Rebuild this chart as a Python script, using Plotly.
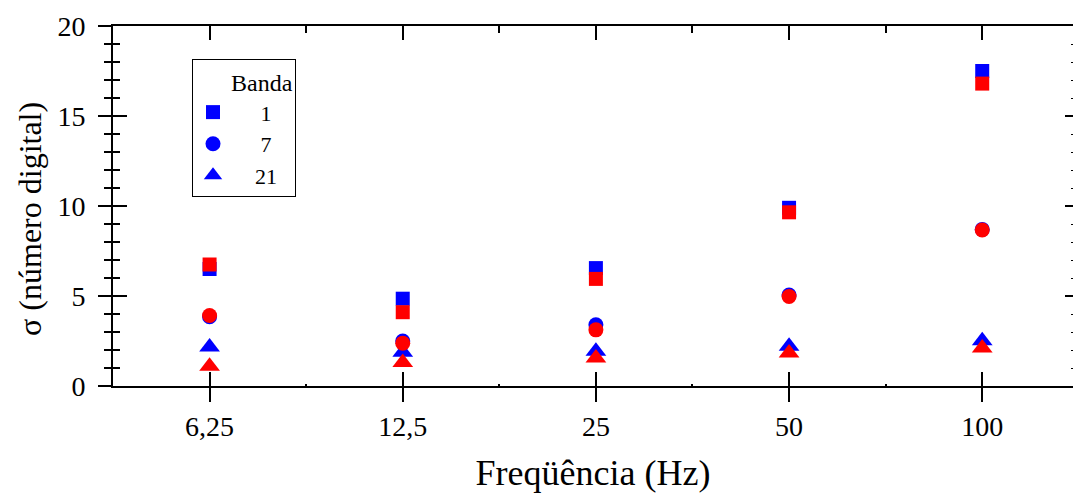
import plotly.graph_objects as go

freq = ['6,25', '12,5', '25', '50', '100']
banda = ['1', '7', '21']
simbolos = ['square', 'circle', 'triangle-up']
tamanhos = [14, 15, 18]

# azul
azul_1 = [6.5, 4.85, 6.55, 9.9, 17.5]
azul_7 = [3.85, 2.5, 3.4, 5.05, 8.7]
azul_21 = [2.16, 1.88, 1.93, 2.21, 2.51]
# vermelho
verm_1 = [6.75, 4.1, 5.95, 9.65, 16.8]
verm_7 = [3.92, 2.38, 3.12, 4.97, 8.67]
verm_21 = [1.1, 1.3, 1.56, 1.84, 2.11]

azul = [azul_1, azul_7, azul_21]
verm = [verm_1, verm_7, verm_21]
x = list(range(len(freq)))

fonte = 'Liberation Serif'
nb = '\u00a0'
rotulos = [nb * 5 + '1', nb * 5 + '7', nb * 4 + '21']

fig = go.Figure()
for i in range(3):
    fig.add_trace(go.Scatter(x=x, y=azul[i], mode='markers', name=rotulos[i],
                             marker=dict(symbol=simbolos[i], size=tamanhos[i], color='#0000ff', line_width=0)))
# vermelhos no par x2/y2 (mesma escala), por cima dos azuis
for i in range(3):
    fig.add_trace(go.Scatter(x=x, y=verm[i], mode='markers', showlegend=False, xaxis='x2', yaxis='y2',
                             marker=dict(symbol=simbolos[i], size=tamanhos[i], color='#ff0000', line_width=0)))
# traco vazio so para desenhar os eixos de cima / direita
fig.add_trace(go.Scatter(x=[], y=[], mode='markers', showlegend=False, xaxis='x3', yaxis='y3'))

xr = [-0.5, 4.47]
yr = [0, 20]
meios = [0.5, 1.5, 2.5, 3.5]

fig.update_layout(
    width=1073, height=493,
    margin=dict(l=113, r=0, t=26, b=107),
    plot_bgcolor='white', paper_bgcolor='white',
    font=dict(family=fonte, size=28, color='black'),
    showlegend=True,
    legend=dict(x=0.0823, y=0.908, xanchor='left', yanchor='top',
                bordercolor='black', borderwidth=1, bgcolor='white',
                font=dict(size=22), title=dict(text=nb * 6 + 'Banda', font=dict(size=24)),
                itemsizing='trace'),
    xaxis=dict(range=xr, tickvals=x, ticktext=freq, showgrid=False, zeroline=False,
               showline=True, linecolor='black', linewidth=2,
               ticks='outside', ticklen=14, tickwidth=2, tickcolor='black',
               title=dict(text='Freqüência (Hz)', font=dict(size=36), standoff=24)),
    xaxis2=dict(range=xr, overlaying='x', side='bottom', anchor='y2', tickvals=x, showticklabels=False,
                showgrid=False, zeroline=False, ticks='inside', ticklen=14, tickwidth=2,
                tickcolor='black',
                minor=dict(tickvals=meios, ticks='inside', ticklen=2, tickwidth=2, tickcolor='black')),
    xaxis3=dict(range=xr, overlaying='x', side='top', anchor='y3', tickvals=x, showticklabels=False,
                showgrid=False, zeroline=False, showline=True, linecolor='black', linewidth=2,
                ticks='inside', ticklen=14, tickwidth=2, tickcolor='black',
                minor=dict(tickvals=meios, ticks='inside', ticklen=7, tickwidth=2, tickcolor='black')),
    yaxis=dict(range=yr, dtick=5, showgrid=False, zeroline=False,
               showline=True, linecolor='black', linewidth=2,
               ticks='outside', ticklen=13, tickwidth=2, tickcolor='black', ticklabelstandoff=7,
               minor=dict(dtick=1, ticks='outside', ticklen=7, tickwidth=2, tickcolor='black')),
    yaxis2=dict(range=yr, overlaying='y', side='left', anchor='x2', dtick=5, showticklabels=False,
                showgrid=False, zeroline=False, ticks='inside', ticklen=14, tickwidth=2, tickcolor='black',
                minor=dict(dtick=1, ticks='inside', ticklen=7, tickwidth=2, tickcolor='black')),
    yaxis3=dict(range=yr, overlaying='y', side='right', anchor='x3', dtick=5, showticklabels=False,
                showgrid=False, zeroline=False, showline=False,
                ticks='inside', ticklen=8, tickwidth=2, tickcolor='black',
                minor=dict(dtick=1, ticks='inside', ticklen=2, tickwidth=1, tickcolor='black')),
)

# titulo do eixo y um pouco abaixo do centro, como no original
fig.add_annotation(text='σ (número digital)', textangle=-90, xref='paper', yref='paper',
                   x=-0.0865, y=0.464, xanchor='center', yanchor='middle', showarrow=False,
                   font=dict(size=32))

fig.write_html('out.html', config={'displayModeBar': False},
               post_script="document.body.style.margin='0';document.body.style.overflow='hidden';")
